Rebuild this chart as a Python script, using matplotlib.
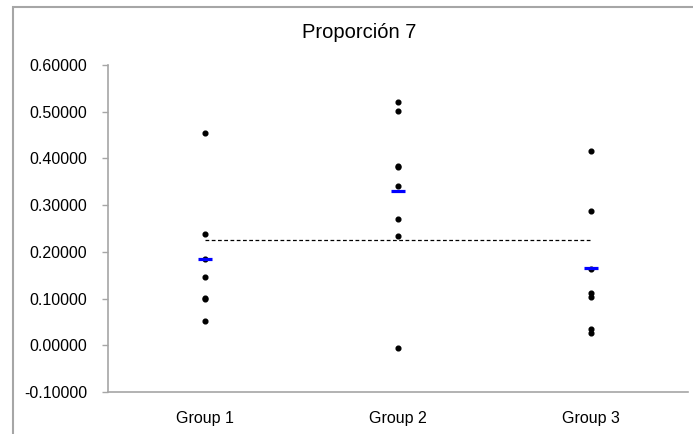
import matplotlib
matplotlib.use("Agg")
import matplotlib.pyplot as plt
from matplotlib.patches import Rectangle

plt.rcParams['font.family'] = ['Liberation Sans', 'DejaVu Sans']

categories = ["Group 1", "Group 2", "Group 3"]
group1 = [0.455, 0.238, 0.184, 0.146, 0.101, 0.100, 0.053]
group2 = [0.521, 0.501, 0.384, 0.382, 0.340, 0.270, 0.235, -0.006]
group3 = [0.415, 0.287, 0.164, 0.111, 0.103, 0.035, 0.026]
group_means = [0.185, 0.330, 0.165]
grand_mean = 0.226
title = "Proporción 7"
yticks = [-0.1, 0.0, 0.1, 0.2, 0.3, 0.4, 0.5, 0.6]

fig = plt.figure(figsize=(6.93, 4.34), dpi=100)
ax = fig.add_axes([108/693, 1-392/434, 580/693, 327/434])

for i, g in enumerate([group1, group2, group3], start=1):
    ax.plot([i]*len(g), g, 'o', color='black', markersize=3.4, linestyle='none', zorder=3)
ax.plot([1, 2, 3], group_means, linestyle='none', marker='_', color='#0000ff',
        markersize=10, markeredgewidth=2.3, zorder=4)
ax.plot([1, 3], [grand_mean, grand_mean], color='black', linestyle=(0, (3, 2)), linewidth=0.9, zorder=2)

ax.set_xlim(0.5, 3.5)
ax.set_ylim(-0.1, 0.6)
ax.set_xticks([1, 2, 3])
ax.set_xticklabels(categories)
ax.set_yticks(yticks)
ax.set_yticklabels([f"{v:.5f}" for v in yticks])
for s in ['top', 'right']:
    ax.spines[s].set_visible(False)
for s in ['left', 'bottom']:
    ax.spines[s].set_color('#a6a6a6')
    ax.spines[s].set_linewidth(1.2)
ax.tick_params(axis='y', length=4.3, width=1, color='#a6a6a6', direction='out', pad=10.5,
               labelsize=11.5, labelcolor='#000000')
ax.tick_params(axis='x', length=0, pad=14, labelsize=11.5, labelcolor='#000000')

fig.text(359/693, 1-32/434, title, ha='center', va='center', fontsize=14.5, color='#000000')

fig.patches.append(Rectangle((13/693, -0.1), 1.1, 1-7/434+0.1, transform=fig.transFigure,
                             fill=False, edgecolor='#a6a6a6', linewidth=1.5))

fig.savefig("out.png", dpi=100)
